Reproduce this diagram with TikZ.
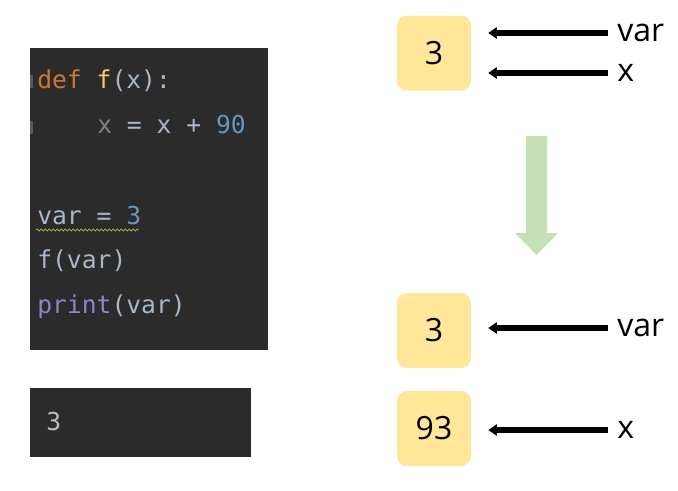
\documentclass[tikz,border=0pt]{standalone}
\usepackage{fontspec}
\setmainfont{Open Sans}
\setmonofont{DejaVu Sans Mono}
\usepackage{tikz}
\usetikzlibrary{arrows.meta,positioning,decorations.pathmorphing}

\definecolor{panel}{HTML}{2B2B2B}
\definecolor{foldc}{HTML}{5A5A5A}
\definecolor{plain}{HTML}{A9B7C6}
\definecolor{kwc}{HTML}{CC7832}
\definecolor{fnc}{HTML}{FFC66D}
\definecolor{numc}{HTML}{6897BB}
\definecolor{dimc}{HTML}{808080}
\definecolor{bic}{HTML}{8888C6}
\definecolor{squigc}{HTML}{A5A35A}
\definecolor{outc}{HTML}{BBBBBB}
\definecolor{cellfill}{HTML}{FFE699}
\definecolor{goc}{HTML}{C5E0B4}

\newcommand\cKw[1]{\textcolor{kwc}{#1}}
\newcommand\cFn[1]{\textcolor{fnc}{#1}}
\newcommand\cNum[1]{\textcolor{numc}{#1}}
\newcommand\cDim[1]{\textcolor{dimc}{#1}}
\newcommand\cBi[1]{\textcolor{bic}{#1}}

\begin{document}
\begin{tikzpicture}[x=0.75pt,y=-0.75pt,
  code/.style={anchor=base west,inner sep=0pt,text=plain,
    font=\ttfamily\fontsize{18.5}{20}\selectfont},
  cell/.style={fill=cellfill,rounded corners=7.5pt,minimum width=55.5pt,
    minimum height=56.25pt,inner sep=0pt,font=\fontsize{24}{28}\selectfont},
  lbl/.style={anchor=west,inner sep=0pt,font=\fontsize{24}{28}\selectfont},
  ref/.style={-{Triangle[length=6.5pt,width=8.5pt]},line width=4pt,
    shorten <=6.75pt,shorten >=12.75pt}]

  \useasboundingbox (0,0) rectangle (678,490);

  % code editor
  \fill[panel] (30,48) rectangle (268,350);
  \fill[foldc] (30,75) rectangle (33,88);
  \fill[foldc] (30,121) rectangle (33,134);
  \node[code] (l1) at (37,88)  {\cKw{def} \cFn{f}(x):};
  \node[code] (l2) at (97,133) {\cDim{x} = x + \cNum{90}};
  \node[code] (l3) at (37,224) {var = \cNum{3}};
  \node[code] (l4) at (37,268) {f(var)};
  \node[code] (l5) at (37,313) {\cBi{print}(var)};
  \draw[squigc,line width=0.6pt,decorate,
    decoration={snake,amplitude=0.8pt,segment length=3pt}] (36,230) -- (139,230);

  % console
  \fill[panel] (30,388) rectangle (251,457);
  \node[code,text=outc] (out) at (46,430) {3};

  % before the call
  \node[cell] (v1) at (434,53) {3};
  \node[lbl] (var1) at (617,33) {var};
  \node[lbl] (x1) at (617,73) {x};
  \draw[ref] (var1.west) -- (v1.east |- var1.west);
  \draw[ref] (x1.west) -- (v1.east |- x1.west);

  % green arrow
  \fill[goc] (526,136) -- (547,136) -- (547,233) -- (558,233)
    -- (536.5,255) -- (515,233) -- (526,233) -- cycle;

  % after the call
  \node[cell] (v2) at (434,330.5) {3};
  \node[cell] (v3) at (434,428.5) {93};
  \node[lbl] (var2) at (617,328) {var};
  \node[lbl] (x2) at (617,430) {x};
  \draw[ref] (var2.west) -- (v2.east |- var2.west);
  \draw[ref] (x2.west) -- (v3.east |- x2.west);
\end{tikzpicture}
\end{document}
